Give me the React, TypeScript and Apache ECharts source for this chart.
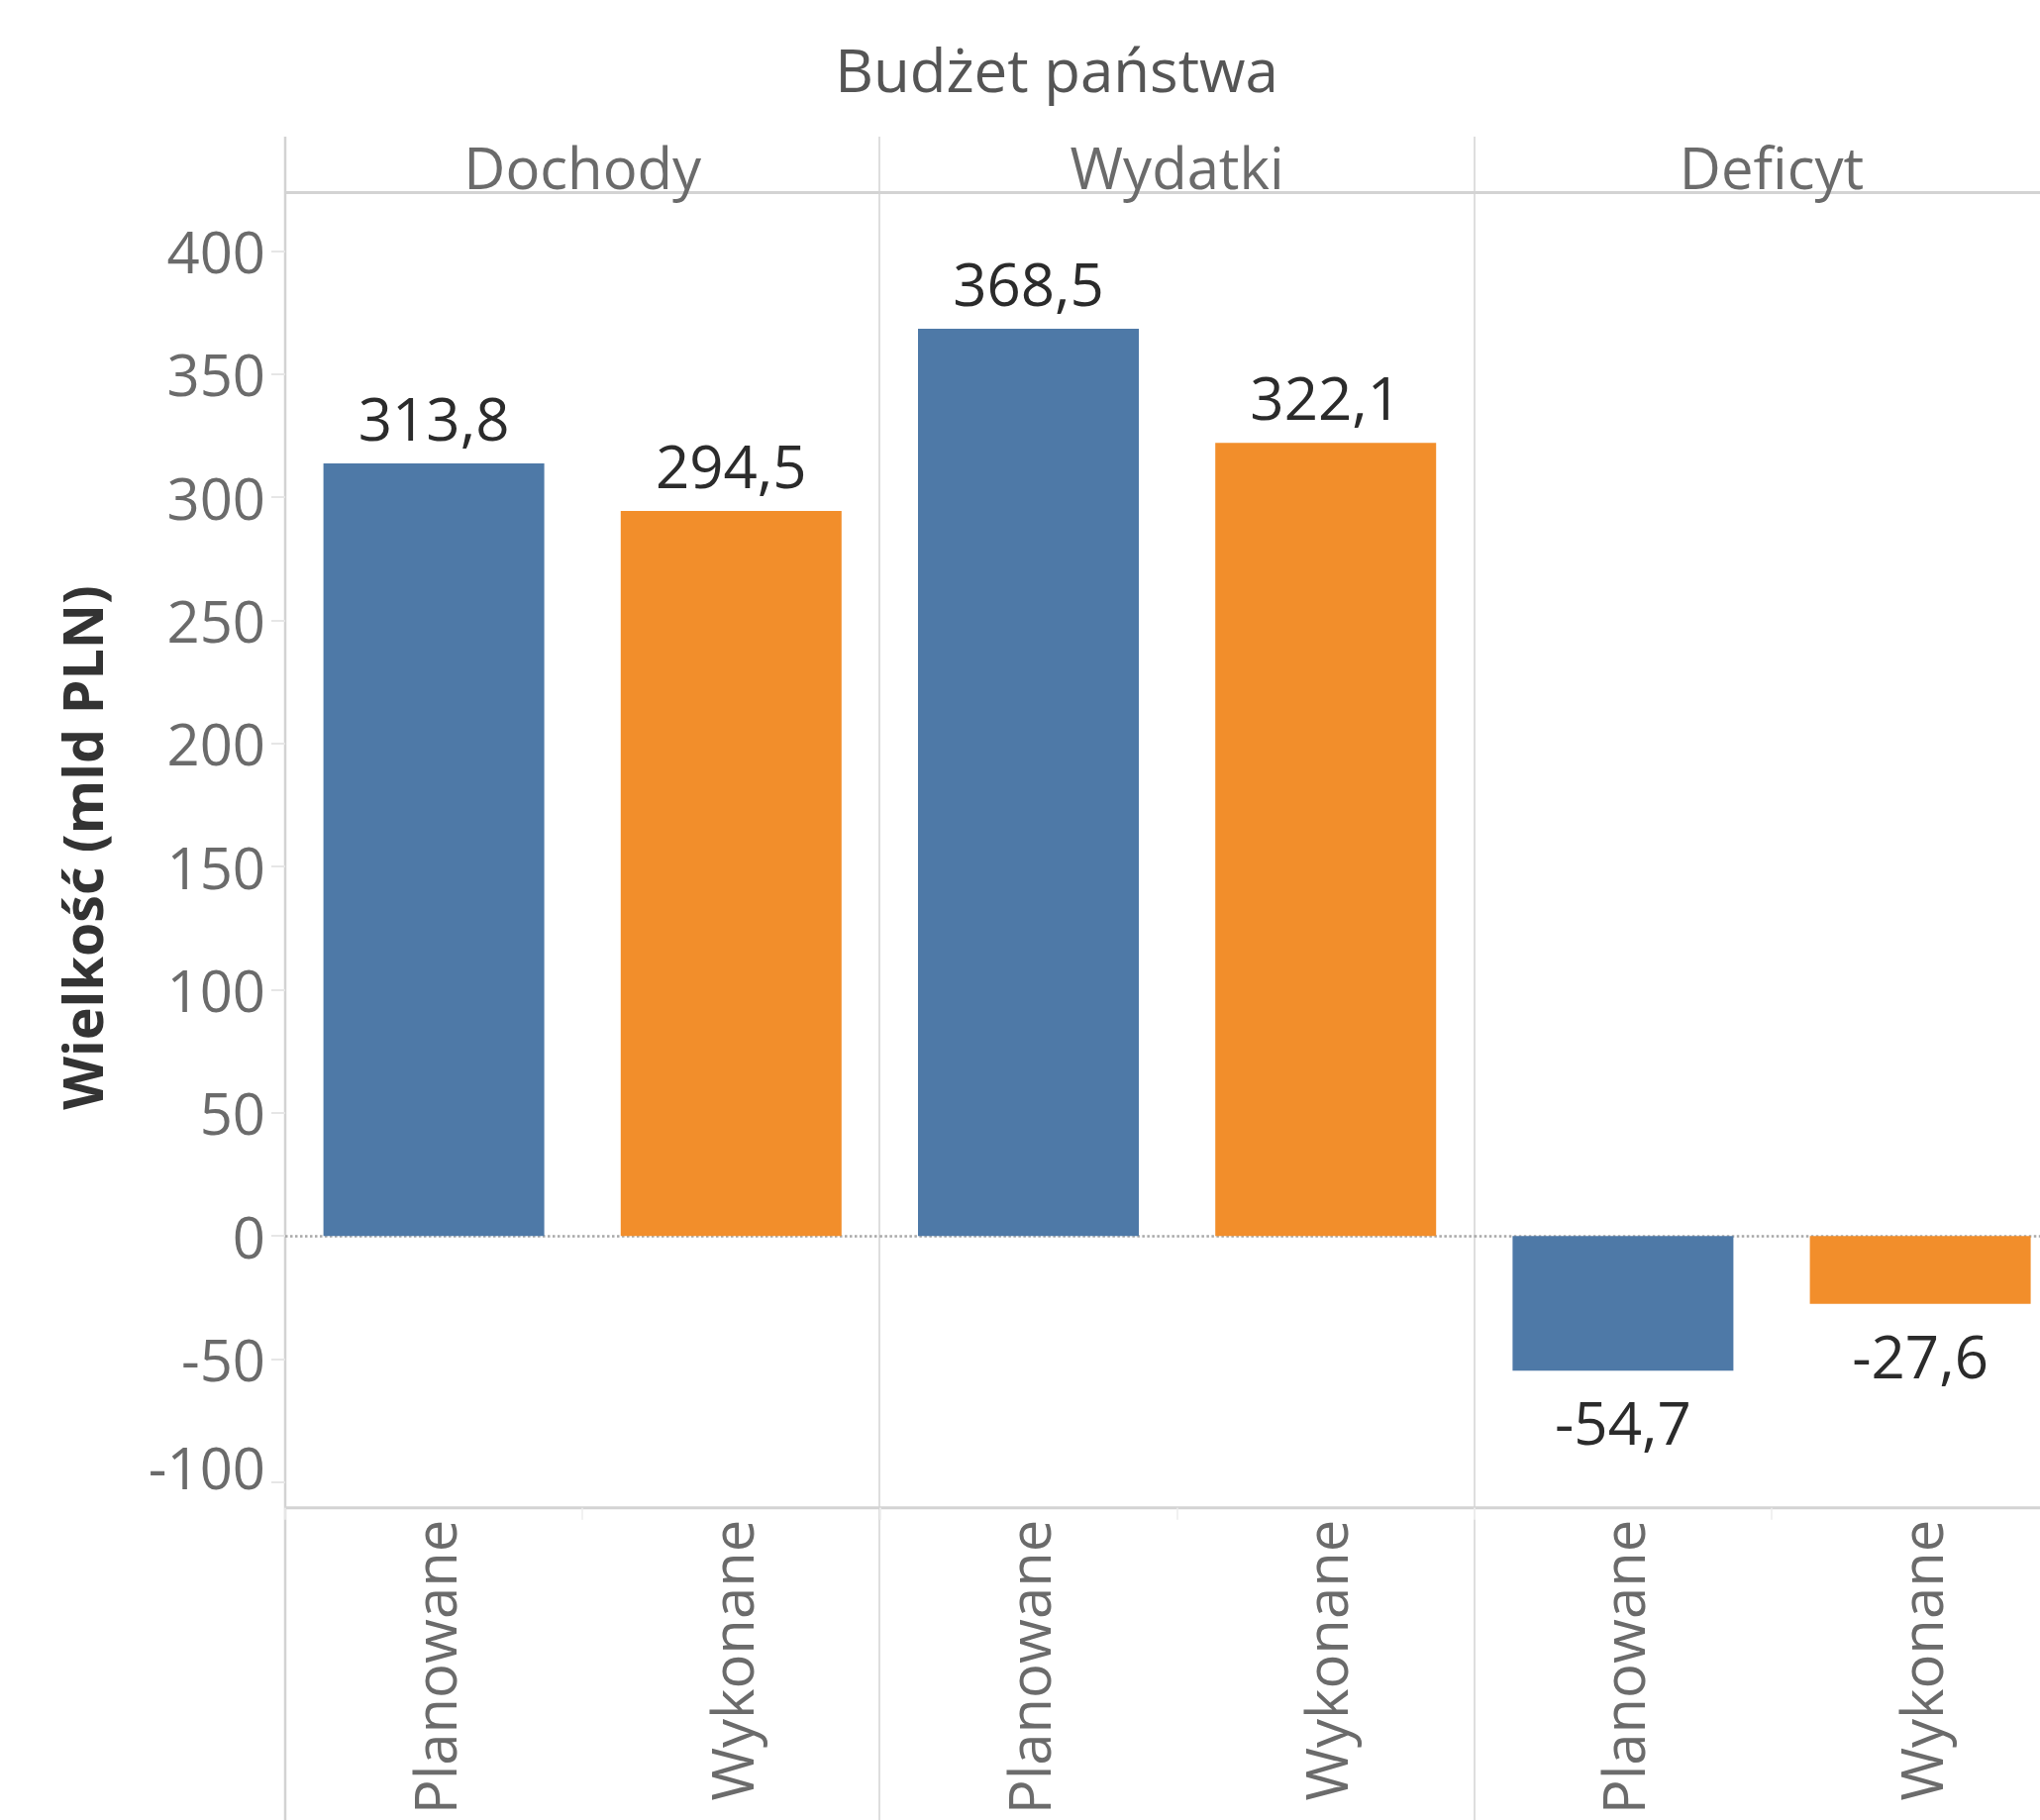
import React, { useEffect, useRef } from "react";
import * as echarts from "echarts";

const chartTitle = "Budżet państwa";
const facets = ["Dochody", "Wydatki", "Deficyt"];
const categories = ["Planowane", "Wykonane"];
const planowane = [313.8, 368.5, -54.7];
const wykonane = [294.5, 322.1, -27.6];
const yAxisTitle = "Wielkość (mld PLN)";
const yMin = -110.4;
const yMax = 423.8;
const yStep = 50;

const W = 2060;
const CW = 2120;
const H = 1838;
const plotLeft = 288;
const panelW = 600.4;
const plotTop = 194.4;
const plotBottom = 1522.7;
const colors = ["#4e79a7", "#f28e2b"];
const FONT = "'Open Sans', 'Liberation Sans', sans-serif";
const gridLine = "#d3d3d3";

function fmt(v: number) {
  return v.toFixed(1).replace(".", ",");
}

export default function App() {
  const ref = useRef<HTMLDivElement>(null);
  useEffect(() => {
    if (!ref.current) return;
    const chart = echarts.init(ref.current, undefined, { renderer: "svg" });
    const grids = facets.map((_, i) => ({
      left: plotLeft + i * panelW,
      top: plotTop,
      width: panelW,
      height: plotBottom - plotTop,
      containLabel: false,
    }));
    const xAxes = facets.map((_, i) => ({
      type: "category",
      gridIndex: i,
      data: categories,
      position: "bottom",
      axisLine: { show: false, onZero: false },
      axisTick: { show: true, length: 12, lineStyle: { color: "#ececec", width: 1.5 } },
      axisLabel: {
        rotate: 90,
        interval: 0,
        fontSize: 58,
        color: "#6b6b6b",
        fontFamily: FONT,
        margin: 12,
      },
    }));
    const yAxes = facets.map((_, i) => ({
      type: "value",
      gridIndex: i,
      min: yMin,
      max: yMax,
      splitNumber: 10,
      minInterval: yStep,
      maxInterval: yStep,
      splitLine: { show: false },
      axisLine: { show: false },
      axisTick: { show: i === 0, length: 14, lineStyle: { color: "#e6e6e6", width: 2 } },
      axisLabel: {
        show: i === 0,
        showMinLabel: false,
        showMaxLabel: false,
        fontSize: 58,
        color: "#6b6b6b",
        fontFamily: FONT,
        margin: 20,
        formatter: (v: number) => (v <= -100 ? `{low|${v}}` : `${v}`),
        rich: {
          low: { fontSize: 58, color: "#6b6b6b", fontFamily: FONT, padding: [0, 0, 30, 0] },
        },
      },
    }));
    const series = facets.map((_, i) => ({
      type: "bar",
      xAxisIndex: i,
      yAxisIndex: i,
      barWidth: 223,
      data: [planowane[i], wykonane[i]].map((v, j) => ({
        value: v,
        itemStyle: { color: colors[j] },
        label: {
          position: v < 0 ? "bottom" : "top",
          distance: v < 0 ? 22 : 16,
        },
      })),
      label: {
        show: true,
        formatter: (p: any) => fmt(p.value),
        fontSize: 60,
        color: "#2b2b2b",
        fontFamily: FONT,
      },
      markLine: {
        silent: true,
        symbol: "none",
        label: { show: false },
        lineStyle: { type: "dotted", color: "#a8a8a8", width: 2.5 },
        data: [{ yAxis: 0 }],
        z: 1,
      },
    }));
    const graphics: any[] = [
      {
        type: "text",
        x: 1067,
        y: 70,
        style: {
          text: chartTitle,
          fontSize: 60,
          fontFamily: FONT,
          fill: "#555555",
          align: "center",
          verticalAlign: "middle",
        },
      },
      {
        type: "text",
        x: 82,
        y: 856,
        rotation: Math.PI / 2,
        style: {
          text: yAxisTitle,
          fontSize: 55.5,
          fontWeight: "bold",
          fontFamily: FONT,
          fill: "#333333",
          align: "center",
          verticalAlign: "middle",
        },
      },
      {
        type: "line",
        shape: { x1: plotLeft, y1: plotTop, x2: CW, y2: plotTop },
        style: { stroke: gridLine, lineWidth: 3 },
      },
      {
        type: "line",
        shape: { x1: plotLeft, y1: plotBottom, x2: CW, y2: plotBottom },
        style: { stroke: gridLine, lineWidth: 3 },
      },
    ];
    facets.forEach((f, i) => {
      const x = Math.round(plotLeft + i * panelW);
      graphics.push({
        type: "line",
        shape: { x1: x, y1: 138, x2: x, y2: H },
        style: { stroke: gridLine, lineWidth: i === 0 ? 2.5 : 1.5 },
      });
      graphics.push({
        type: "text",
        x: plotLeft + i * panelW + panelW / 2,
        y: 168,
        style: {
          text: f,
          fontSize: 58,
          fontFamily: FONT,
          fill: "#6b6b6b",
          align: "center",
          verticalAlign: "middle",
        },
      });
    });
    chart.setOption({
      animation: false,
      backgroundColor: "#ffffff",
      grid: grids,
      xAxis: xAxes,
      yAxis: yAxes,
      series,
      graphic: graphics,
    });
    return () => chart.dispose();
  }, []);
  return (
    <div
      style={{
        position: "absolute",
        left: 0,
        top: 0,
        width: W,
        height: H,
        overflow: "hidden",
        background: "#ffffff",
      }}
    >
      <div ref={ref} style={{ width: CW, height: H }} />
    </div>
  );
}
